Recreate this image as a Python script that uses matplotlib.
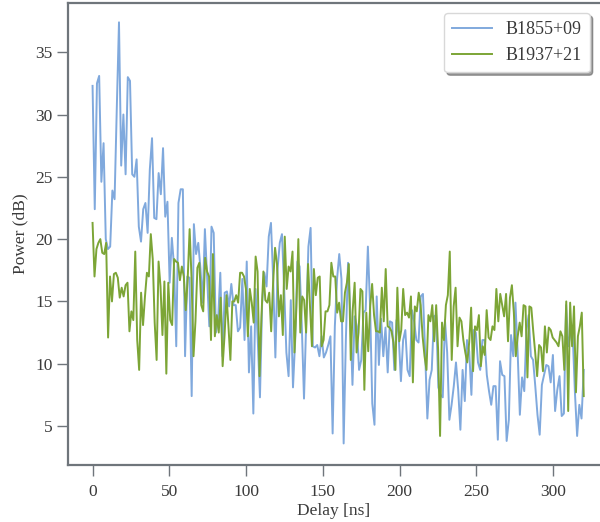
import numpy as np
import matplotlib.pyplot as plt

# power delay profiles, dB, sampled uniformly from 0 to 320 ns
b1855 = [32.3, 22.4, 32.5, 33.1, 24.6, 27.7, 20.0, 19.2, 19.4, 23.9, 23.2, 30.5, 37.4, 25.9, 30.0,
         25.2, 33.0, 32.7, 25.2, 25.0, 26.4, 21.0, 19.8, 22.4, 22.9, 20.5, 25.6, 28.1, 21.7, 21.6,
         25.3, 23.6, 27.3, 21.8, 23.0, 16.5, 20.1, 17.8, 11.4, 22.9, 24.0, 24.0, 10.6,
         17.0, 16.9, 7.4, 21.2, 18.8, 19.7, 17.6, 14.9, 20.8, 17.0, 13.0, 21.0, 20.5, 12.5, 13.5,
         17.3, 10.6, 15.7, 15.8, 14.6, 16.4, 14.7, 14.7, 12.6, 12.9, 16.8, 11.9, 18.2, 9.3, 13.0,
         6.0, 16.0, 11.9, 7.3, 14.9, 17.3, 16.2, 20.2, 21.3, 16.8, 10.5, 17.6, 19.7,
         20.4, 16.0, 10.9, 9.0, 15.1, 8.1, 11.9, 18.2, 17.8, 13.0, 7.2, 13.3, 19.4, 20.9, 11.4,
         11.3, 11.5, 10.6, 12.2, 10.5, 10.9, 11.5, 12.2, 4.4, 13.0, 16.8, 18.8, 16.8, 3.6, 11.9,
         18.1, 14.1, 8.3, 13.8, 13.0, 9.5, 10.3, 14.1, 14.3, 19.4, 14.6, 6.8, 5.1, 15.4, 9.9,
         13.6, 10.6, 12.9, 9.3, 13.4, 13.3, 9.5, 13.5, 12.2, 8.6, 11.9, 12.7, 9.5, 9.0, 14.3,
         13.4, 11.9, 11.7, 15.4, 15.6, 10.9, 5.6, 8.7, 9.5, 13.8, 13.9, 8.1, 7.5, 7.3, 13.5,
         10.9, 5.5, 6.7, 8.2, 10.1, 7.9, 4.7, 9.5, 7.0, 11.9, 11.0, 7.5, 12.7, 12.5, 10.1, 9.5,
         11.9,
         11.9, 9.1, 7.8, 6.7, 8.2, 8.2, 3.9, 10.2, 9.1, 9.0, 3.8, 5.5, 12.3, 10.6, 14.9, 10.9,
         5.9, 8.9, 7.8, 12.7, 13.9, 10.6, 10.3, 8.2, 5.9, 4.3, 8.3, 9.1, 9.9, 9.8, 8.5, 10.7,
         6.2, 7.9, 9.0, 5.8, 6.0, 14.7, 11.4, 12.5, 12.3, 7.7, 4.2, 6.7, 5.6, 9.5]

b1937 = [21.3, 17.0, 19.2, 19.7, 20.0, 18.9, 18.8, 19.7, 12.1, 17.0, 15.0, 17.2, 17.3, 16.9, 15.3,
         16.1, 15.4, 16.3, 16.5, 12.6, 14.2, 13.5, 19.0, 11.9, 9.5, 15.7, 13.1, 15.4, 17.3, 17.0,
         20.4, 18.4, 13.3, 10.3, 18.2, 16.2, 12.3, 16.6, 9.2, 16.5, 13.5, 13.1, 18.4, 18.2, 18.1,
         16.7, 17.8,
         17.0, 14.3, 16.8, 20.8, 16.8, 10.6, 13.4, 17.7, 18.1, 14.7, 14.2, 18.5, 17.4, 17.0, 11.9,
         18.8, 12.2, 13.9, 12.5, 15.3, 9.8, 12.3, 15.5, 13.0, 10.3, 15.0, 15.0, 15.5, 14.9, 17.3,
         17.3, 17.0, 16.0, 12.2, 16.0, 14.9, 13.3, 18.6, 17.4, 9.0, 13.8, 17.4, 15.1, 14.9, 15.7,
         12.6, 16.5, 19.3, 18.0, 13.8, 15.5, 12.3,
         20.2, 16.0, 17.8, 17.4, 19.0, 10.9, 14.5, 20.0, 12.5, 15.4, 15.1, 12.5, 18.0, 14.6, 11.4,
         17.6, 15.5, 16.9, 17.0, 11.4, 11.9, 14.2, 14.2, 14.7, 18.1, 17.0, 17.0, 14.1, 14.9, 13.4,
         13.4, 15.7, 16.5, 18.0, 10.3, 14.3, 16.5, 10.9, 12.5, 16.0, 15.8, 7.9, 14.1, 11.0, 14.6,
         16.4, 13.9, 12.6, 12.6, 12.5, 16.1, 13.4,
         17.6, 13.0, 12.9, 12.6, 11.7, 9.5, 16.1, 11.8, 12.7, 16.0, 13.9, 14.1, 13.7, 15.4, 8.5,
         14.6, 14.2, 15.7, 14.7, 12.2, 10.6, 9.5, 13.9, 13.4, 14.7, 11.8, 14.7, 11.1, 4.2, 13.3,
         11.9, 14.7, 15.5, 19.0, 10.3, 14.6, 16.1, 11.4, 13.7, 13.4, 11.9, 10.9, 10.1, 11.7, 14.5,
         9.4, 13.0, 12.7, 13.9, 9.8, 11.4, 10.7,
         14.3, 12.1, 11.9, 13.0, 12.7, 16.0, 13.4, 15.6, 14.7, 13.8, 15.6, 11.8, 15.3, 16.3, 14.1,
         10.6, 12.2, 13.3, 12.2, 14.7, 14.6, 8.9, 14.6, 14.5, 12.6, 10.9, 9.0, 11.5, 11.3, 9.4,
         13.0, 10.9, 12.9, 12.7, 12.1, 11.9, 11.7, 11.4, 12.6, 12.2, 9.5, 15.0, 6.2, 14.9, 11.4,
         14.6, 7.7, 12.2, 13.0, 14.1, 7.4]

t_max = 320.0
delay1 = np.linspace(0, t_max, len(b1855))
delay2 = np.linspace(0, t_max, len(b1937))

plt.rcParams['font.family'] = ['Liberation Serif', 'DejaVu Serif']
grey = '#6f757b'
txt = '#3a3a3a'

fig = plt.figure(figsize=(6.0, 5.22), dpi=100)
ax = fig.add_axes([68 / 600, 57 / 522, 1 - 68 / 600, 462 / 522])

ax.plot(delay1, b1855, color='#80a9dd', lw=1.4, label='B1855+09')
ax.plot(delay2, b1937, color='#7ca536', lw=1.4, label='B1937+21')

ax.set_xlim(-16, 330.6)
ax.set_ylim(1.87, 38.95)
ax.set_xticks([0, 50, 100, 150, 200, 250, 300])
ax.set_yticks([5, 10, 15, 20, 25, 30, 35])

for side in ['left', 'bottom', 'top']:
    ax.spines[side].set_color(grey)
    ax.spines[side].set_linewidth(1.6)
ax.spines['right'].set_visible(False)
ax.tick_params(direction='out', length=8, width=1, color=grey,
               labelsize=12.5, labelcolor=txt)
ax.tick_params(axis='y', pad=3)
ax.tick_params(axis='x', pad=6)

ax.set_xlabel('Delay [ns]', fontsize=12.5, color=txt, labelpad=2)
ax.set_ylabel('Power (dB)', fontsize=12.5, color=txt, labelpad=5)

leg = ax.legend(loc='upper right', bbox_to_anchor=(0.981, 0.978), borderaxespad=0,
                fontsize=13, frameon=True, shadow=True, fancybox=True,
                handlelength=2.2, handletextpad=0.75, borderpad=0.45)
leg.get_frame().set_edgecolor('#d8d8d8')
for t in leg.get_texts():
    t.set_color(txt)

fig.savefig('out.png', dpi=100)
